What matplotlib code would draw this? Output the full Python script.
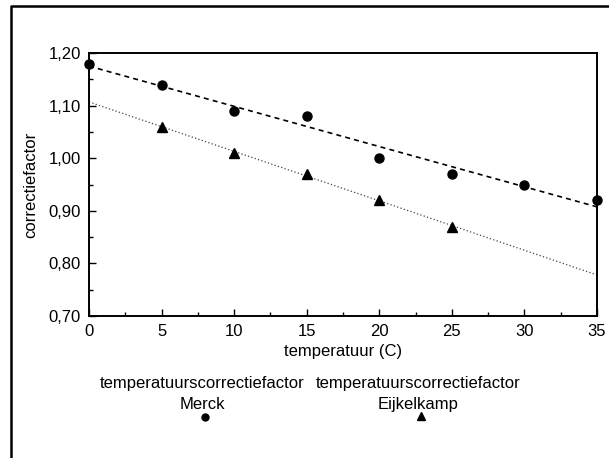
import numpy as np
import matplotlib
matplotlib.use("Agg")
import matplotlib.pyplot as plt
from matplotlib.lines import Line2D
from matplotlib.ticker import MultipleLocator, FuncFormatter

plt.rcParams['font.family'] = ['Liberation Sans', 'DejaVu Sans']

# Data
merck_temp = [0, 5, 10, 15, 20, 25, 30, 35]
merck_factor = [1.18, 1.14, 1.09, 1.08, 1.00, 0.97, 0.95, 0.92]
eijk_temp = [5, 10, 15, 20, 25]
eijk_factor = [1.06, 1.01, 0.97, 0.92, 0.87]
x_ticks = [0, 5, 10, 15, 20, 25, 30, 35]
y_ticks = [0.70, 0.80, 0.90, 1.00, 1.10, 1.20]
label_merck = "temperatuurscorrectiefactor\nMerck"
label_eijk = "temperatuurscorrectiefactor\nEijkelkamp"

FS = 12

fig = plt.figure(figsize=(6.09, 4.58), dpi=100)
ax = fig.add_axes([89/609, 1-316/458, (597-89)/609, (316-53)/458])

# trend lines (linear fits)
xfit = np.array([0, 35])
pm = np.polyfit(merck_temp, merck_factor, 1)
pe = np.polyfit(eijk_temp, eijk_factor, 1)
ax.plot(xfit, np.polyval(pm, xfit), color='black', lw=1.2, ls=(0, (3, 2.5)))
ax.plot(xfit, np.polyval(pe, xfit), color='#444444', lw=0.9, ls=(0, (1, 1.8)))

ax.plot(merck_temp, merck_factor, 'o', color='black', ms=6.5, clip_on=False, zorder=5)
ax.plot(eijk_temp, eijk_factor, '^', color='black', ms=7, clip_on=False, zorder=5)

ax.set_xlim(0, 35)
ax.set_ylim(0.70, 1.20)
ax.set_xticks(x_ticks)
ax.set_yticks(y_ticks)
ax.xaxis.set_minor_locator(MultipleLocator(2.5))
ax.yaxis.set_minor_locator(MultipleLocator(0.05))
ax.yaxis.set_major_formatter(FuncFormatter(lambda v, p: f"{v:.2f}".replace('.', ',')))
ax.tick_params(which='both', direction='in', top=False, right=False, labelsize=FS)
ax.tick_params(which='major', length=5, width=1, pad=6)
ax.tick_params(which='minor', length=3, width=1)
for s in ax.spines.values():
    s.set_linewidth(1.4)

ax.set_xlabel("temperatuur (C)", fontsize=FS, labelpad=3)
ax.set_ylabel("correctiefactor", fontsize=FS, labelpad=7)

# legend (text above marker)
fig.text(202/609, 1-394/458, label_merck, ha='center', va='center', fontsize=FS,
         linespacing=1.45, multialignment='center')
fig.text(418/609, 1-394/458, label_eijk, ha='center', va='center', fontsize=FS,
         linespacing=1.45, multialignment='center')
fig.add_artist(Line2D([205/609], [1-417/458], marker='o', color='black', ms=5,
                      transform=fig.transFigure))
fig.add_artist(Line2D([421/609], [1-416/458], marker='^', color='black', ms=6,
                      transform=fig.transFigure))

# outer frame
fig.add_artist(Line2D([11/609, 11/609, 1.0], [0.0, 1-6/458, 1-6/458], color='black',
                      lw=1.8, transform=fig.transFigure))

fig.savefig("out.png", dpi=100)
